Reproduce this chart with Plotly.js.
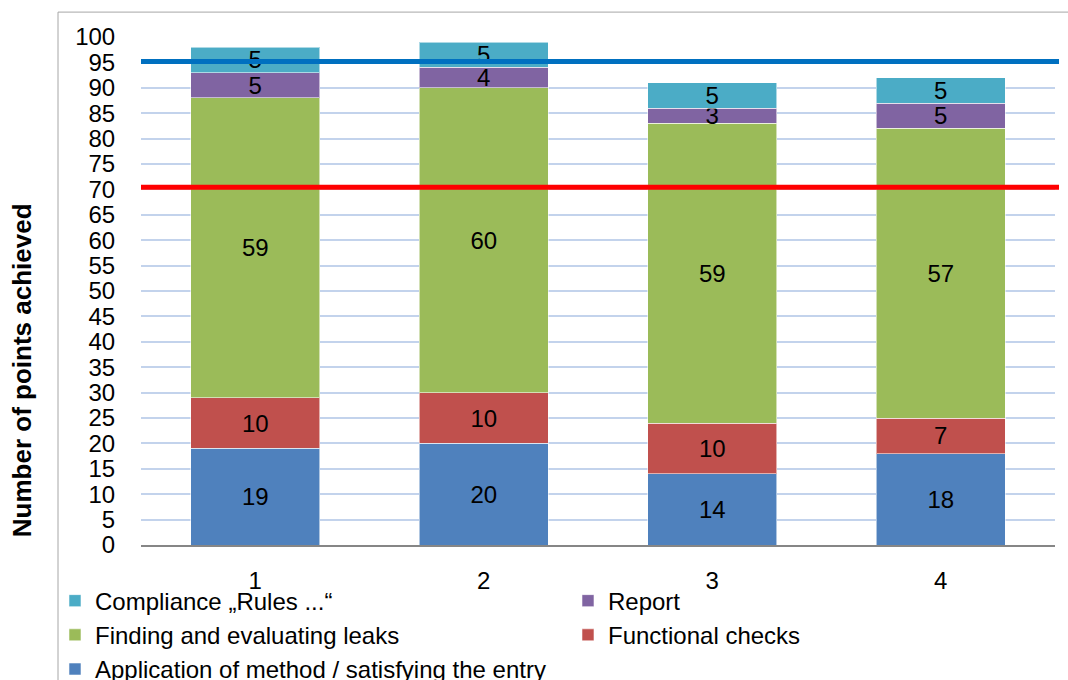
<!DOCTYPE html>
<html>
<head>
<meta charset="utf-8">
<script src="https://cdn.plot.ly/plotly-3.0.1.min.js"></script>
<style>html,body{margin:0;padding:0;background:#fff;}#chart{width:1068px;height:680px;}</style>
</head>
<body>
<div id="chart"></div>
<script>
const categories = ['1', '2', '3', '4'];
const application = [19, 20, 14, 18];
const functional = [10, 10, 10, 7];
const finding = [59, 60, 59, 57];
const report = [5, 4, 3, 5];
const compliance = [5, 5, 5, 5];
const seriesNames = [
  'Application of method / satisfying the entry',
  'Functional checks',
  'Finding and evaluating leaks',
  'Report',
  'Compliance \u201eRules ...\u201c'
];
const seriesColors = ['#4F81BD', '#C0504D', '#9BBB59', '#8064A2', '#4BACC6'];
const thresholdValues = [95.2, 70.4];
const thresholdColors = ['#0070C0', '#FF0000'];
const yTicks = [0,5,10,15,20,25,30,35,40,45,50,55,60,65,70,75,80,85,90,95,100];

const FONT = '"Liberation Sans", Arial, sans-serif';
const seriesValues = [application, functional, finding, report, compliance];

const traces = seriesValues.map((vals, i) => ({
  type: 'bar',
  name: seriesNames[i],
  x: categories,
  y: vals,
  text: vals.map(String),
  textposition: 'inside',
  insidetextanchor: 'middle',
  textangle: 0,
  constraintext: 'none',
  textfont: {family: FONT, size: 24, color: '#000'},
  marker: {color: seriesColors[i], line: {color: 'rgba(255,255,255,0.55)', width: 1}},
  hoverinfo: 'skip'
}));

const shapes = [
  {type: 'rect', xref: 'paper', yref: 'paper', x0: -0.0908, x1: 1.2, y0: -1, y1: 1.049,
   line: {color: '#a6a6a6', width: 1}, fillcolor: 'rgba(0,0,0,0)', layer: 'below'}
];
thresholdValues.forEach((v, i) => {
  shapes.push({type: 'line', xref: 'paper', yref: 'y', x0: 0, x1: 1.0044, y0: v, y1: v,
    line: {color: thresholdColors[i], width: 5}, layer: 'above'});
});

const layout = {
  width: 1068, height: 680,
  margin: {l: 141, r: 13, t: 37, b: 135, autoexpand: false},
  paper_bgcolor: '#fff', plot_bgcolor: '#fff',
  barmode: 'stack',
  bargap: 0.435,
  font: {family: FONT, size: 24, color: '#000'},
  showlegend: true,
  legend: {
    orientation: 'h', traceorder: 'reversed',
    x: -0.0941, xanchor: 'left', y: -0.066, yanchor: 'top',
    entrywidth: 468, entrywidthmode: 'pixels',
    font: {family: FONT, size: 24, color: '#000'},
    itemwidth: 30, tracegroupgap: 0, bgcolor: 'rgba(0,0,0,0)'
  },
  xaxis: {
    type: 'category', range: [-0.5, 3.5],
    showgrid: false, zeroline: false,
    showline: true, linecolor: '#868686', linewidth: 1.5,
    ticks: 'outside', ticklen: 14, tickcolor: 'rgba(0,0,0,0)',
    tickfont: {family: FONT, size: 24, color: '#000'},
    fixedrange: true
  },
  yaxis: {
    range: [0, 100], tickmode: 'array', tickvals: yTicks, ticktext: yTicks.map(String),
    showgrid: true, gridcolor: '#c3d3ec', gridwidth: 2,
    zeroline: false, showline: false,
    ticks: 'outside', ticklen: 20, tickcolor: 'rgba(0,0,0,0)',
    tickfont: {family: FONT, size: 24, color: '#000'},
    fixedrange: true
  },
  shapes: shapes,
  annotations: [
    {text: '<b>Number of points achieved</b>', xref: 'paper', yref: 'paper',
     x: -0.130, y: 0.3445, xanchor: 'center', yanchor: 'middle', textangle: -90,
     showarrow: false, font: {family: FONT, size: 26, color: '#000'}}
  ]
};

Plotly.newPlot('chart', traces, layout, {displayModeBar: false, staticPlot: true});
</script>
</body>
</html>
